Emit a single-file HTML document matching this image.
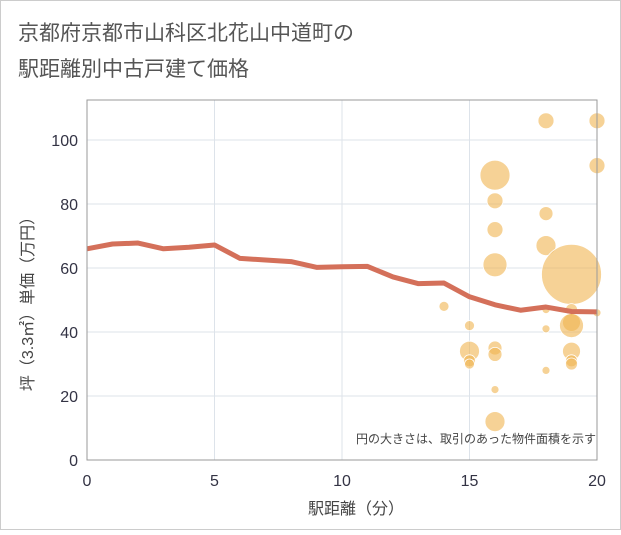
<!DOCTYPE html>
<html><head><meta charset="utf-8"><style>
body{margin:0;background:#fff;}
svg text{font-family:"Liberation Sans","Noto Sans CJK JP",sans-serif;}
</style></head><body>
<svg width="621" height="530" viewBox="0 0 621 530">
<rect x="0.5" y="0.5" width="620" height="529" fill="#fff" stroke="#ccc"/>
<text x="18" y="40" font-size="21" fill="#555">京都府京都市山科区北花山中道町の</text>
<text x="18" y="76" font-size="21" fill="#555">駅距離別中古戸建て価格</text>
<g id="grid"></g>
<g id="bubbles"></g>
<g id="line"></g>
<g id="axes"></g>
<text x="596" y="443" font-size="12" fill="#444" text-anchor="end">円の大きさは、取引のあった物件面積を示す</text>
<text x="356" y="514" font-size="16" fill="#444" text-anchor="middle">駅距離（分）</text>
<text transform="translate(33,300) rotate(-90)" font-size="16" fill="#444" text-anchor="middle">坪（3.3㎡）単価（万円）</text>
</svg>
<script>
const xTicks=[0,5,10,15,20];
const yTicks=[0,20,40,60,80,100];
const lineX=[0,1,2,3,4,5,6,7,8,9,10,11,12,13,14,15,16,17,18,19,20];
const lineY=[66,67.5,67.8,66,66.5,67.2,63,62.5,62,60.2,60.4,60.5,57.2,55.1,55.3,51,48.5,46.8,47.8,46.4,46.3];
const bubX=[14,15,15,15,15,16,16,16,16,16,16,16,16,18,18,18,18,18,18,19,19,19,19,19,19,19,20,20,20];
const bubY=[48,42,34,31,30,89,81,72,61,35,33,22,12,106,77,67,47,41,28,58,47,43,42,34,31,30,106,92,46];
const bubR=[5,5,10,6,5,15,8,8,12,7,7,4,10,8,7,10,4,4,4,30,6,9,12,9,6,6,8,8,4];
const X0=87,X1=597,Y0=460,Y1=140;
const sx=v=>X0+(X1-X0)*v/20, sy=v=>Y0-(Y0-Y1)*v/100;
const NS="http://www.w3.org/2000/svg";
const mk=(t,a,p)=>{const e=document.createElementNS(NS,t);for(const k in a)e.setAttribute(k,a[k]);document.getElementById(p).appendChild(e);return e;};
xTicks.forEach(t=>{const e=mk('line',{x1:sx(t),x2:sx(t),y1:100,y2:Y0,stroke:'#dde3ea'},'grid');


const l=mk('text',{x:sx(t),y:486,'font-size':16,fill:'#334','text-anchor':'middle','font-family':'DejaVu Sans'},'axes');l.textContent=t;

});
yTicks.forEach(t=>{const e=mk('line',{x1:X0,x2:X1,y1:sy(t),y2:sy(t),stroke:'#dde3ea'},'grid');


const l=mk('text',{x:78,y:sy(t)+6,'font-size':16,fill:'#334','text-anchor':'end','font-family':'DejaVu Sans'},'axes');l.textContent=t;

});
const r=mk('rect',{x:X0,y:100,width:X1-X0,height:Y0-100,fill:'none',stroke:'#999'},'axes');


bubX.forEach((x,i)=>{const c=mk('circle',{cx:sx(x),cy:sy(bubY[i]),r:bubR[i],fill:'rgba(240,180,80,0.6)',stroke:'#fff','stroke-width':0.8},'bubbles');

});
const p=mk('polyline',{points:lineX.map((x,i)=>sx(x)+','+sy(lineY[i])).join(' '),fill:'none',stroke:'#d4705a','stroke-width':5,'stroke-linejoin':'round'},'line');


</script>
</body></html>
